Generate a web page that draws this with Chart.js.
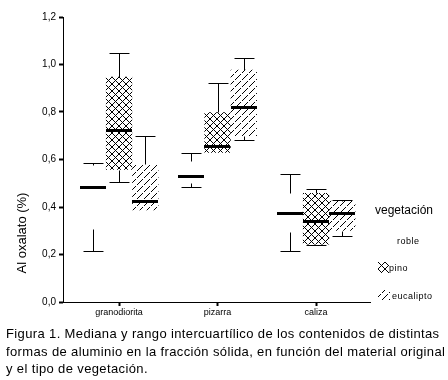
<!DOCTYPE html>
<html>
<head>
<meta charset="utf-8">
<script src="https://cdn.jsdelivr.net/npm/chart.js@4.4.1/dist/chart.umd.min.js"></script>
<style>
  body { margin: 0; background: #fff; }
  #wrap { position: relative; width: 448px; height: 380px; overflow: hidden; font-family: "Liberation Sans", Arial, sans-serif; color: #000; }
  #chart { position: absolute; left: 0; top: 0; }
  .txt { position: absolute; white-space: nowrap; font-weight: normal; color: #000; }
  #ytitle { left: -23px; top: 225px; width: 90px; height: 16px; line-height: 16px; text-align: center; font-size: 13px; transform: rotate(-90deg); }
  #legTitle { left: 375px; top: 203px; font-size: 12px; }
  .legItem { font-size: 9px; letter-spacing: 0.5px; }
  #caption { left: 6px; top: 325px; font-size: 13px; line-height: 17.5px; letter-spacing: 0.37px; }
  .icon { position: absolute; }
</style>
</head>
<body>
<div id="wrap">
  <canvas id="chart" width="448" height="380"></canvas>
  <div class="txt" id="ytitle">Al oxalato (%)</div>
  <div class="txt" id="legTitle">vegetación</div>
  <div class="txt legItem" style="left:397px; top:236px;">roble</div>
  <canvas class="icon" id="iconPino" width="11" height="11" style="left:378px; top:262px;"></canvas>
  <div class="txt legItem" style="left:389px; top:263px;">pino</div>
  <canvas class="icon" id="iconEuc" width="12" height="11" style="left:378px; top:290px;"></canvas>
  <div class="txt legItem" style="left:392px; top:291px;">eucalipto</div>
  <div class="txt" id="caption">Figura 1. Mediana y rango intercuartílico de los contenidos de distintas<br>formas de aluminio en la fracción sólida, en función del material original<br>y el tipo de vegetación.</div>
</div>
<script>
// datos (Al oxalato, %)
const categories = ['granodiorita', 'pizarra', 'caliza'];
const series = ['roble', 'pino', 'eucalipto'];

const robleMin = [0.216, 0.486, 0.216];
const robleQ1  = [0.309, 0.500, 0.293];
const robleMed = [0.486, 0.532, 0.373];
const robleQ3  = [0.577, 0.594, 0.459];
const robleMax = [0.587, 0.627, 0.541];

const pinoMin = [0.507, 0.628, 0.240];
const pinoQ1  = [0.557, 0.628, 0.242];
const pinoMed = [0.723, 0.656, 0.343];
const pinoQ3  = [0.948, 0.799, 0.459];
const pinoMax = [1.050, 0.920, 0.475];

const eucMin = [0.386, 0.681, 0.277];
const eucQ1  = [0.386, 0.698, 0.300];
const eucMed = [0.424, 0.823, 0.376];
const eucQ3  = [0.580, 0.978, 0.426];
const eucMax = [0.700, 1.029, 0.430];

const yTicks = [0, 0.2, 0.4, 0.6, 0.8, 1.0, 1.2];

// tramas
function makeTile(draw) {
    const c = document.createElement('canvas');
    c.width = 7; c.height = 7;
    const g = c.getContext('2d');
    g.fillStyle = '#000';
    draw(g);
    return c;
}
const crossTile = makeTile(g => {
    for (let i = 0; i < 7; i++) { g.fillRect(i, i, 1, 1); g.fillRect(i, 6 - i, 1, 1); }
});
const hatchTile = makeTile(g => {
    for (let i = 0; i < 7; i++) { if (i !== 3) g.fillRect(i, 6 - i, 1, 1); }
});
const tmp = document.createElement('canvas').getContext('2d');
const crossPat = tmp.createPattern(crossTile, 'repeat');
const hatchPat = tmp.createPattern(hatchTile, 'repeat');

function fillIcon(id, pat) {
    const c = document.getElementById(id);
    const g = c.getContext('2d');
    g.fillStyle = pat;
    g.fillRect(0, 0, c.width, c.height);
}
fillIcon('iconPino', crossPat);
fillIcon('iconEuc', hatchPat);

const stats = [
    { min: robleMin, q1: robleQ1, med: robleMed, q3: robleQ3, max: robleMax, fill: 'rgba(0,0,0,0)' },
    { min: pinoMin, q1: pinoQ1, med: pinoMed, q3: pinoQ3, max: pinoMax, fill: crossPat },
    { min: eucMin, q1: eucQ1, med: eucMed, q3: eucQ3, max: eucMax, fill: hatchPat }
];

// bigotes y medianas
const boxExtras = {
    id: 'boxExtras',
    afterDatasetsDraw(chart) {
        const ctx = chart.ctx;
        const y = chart.scales.y;
        ctx.save();
        ctx.strokeStyle = '#000';
        stats.forEach((s, i) => {
            chart.getDatasetMeta(i).data.forEach((bar, j) => {
                const cx = Math.round(bar.x) + 0.5;
                const half = bar.width / 2;
                const cap = bar.width * 0.38;
                ctx.lineWidth = 1;
                const whisker = (from, to) => {
                    if (Math.abs(to - from) < 0.002) return;
                    const y1 = Math.round(y.getPixelForValue(from)) + 0.5;
                    const y2 = Math.round(y.getPixelForValue(to)) + 0.5;
                    ctx.beginPath();
                    ctx.moveTo(cx, y1); ctx.lineTo(cx, y2);
                    ctx.moveTo(cx - cap, y2); ctx.lineTo(cx + cap, y2);
                    ctx.stroke();
                };
                whisker(s.q3[j], s.max[j]);
                whisker(s.q1[j], s.min[j]);
                const ym = Math.round(y.getPixelForValue(s.med[j]));
                ctx.fillStyle = '#000';
                ctx.fillRect(Math.round(bar.x - half), ym - 1, Math.round(bar.width), 3);
            });
        });
        ctx.restore();
    }
};

const font = { family: '"Liberation Sans", Arial, sans-serif', size: 9 };

new Chart(document.getElementById('chart'), {
    type: 'bar',
    data: {
        datasets: stats.map((s, i) => ({
            label: series[i],
            data: categories.map((c, j) => ({ x: j + 1, y: [s.q1[j], s.q3[j]] })),
            backgroundColor: s.fill,
            borderWidth: 0,
            categoryPercentage: 0.8,
            barPercentage: 1
        }))
    },
    options: {
        responsive: false,
        animation: false,
        layout: { padding: { left: 0, top: 17, right: 78, bottom: 58 } },
        plugins: { legend: { display: false }, tooltip: { enabled: false } },
        scales: {
            x: {
                type: 'linear',
                offset: false,
                min: 0.431,
                max: 3.548,
                afterBuildTicks: sc => { sc.ticks = categories.map((c, j) => ({ value: j + 1 })); },
                afterFit: sc => { sc.height = 20; },
                ticks: { callback: v => categories[v - 1], color: '#000', font: font, padding: 1, maxRotation: 0 },
                grid: { drawOnChartArea: false, offset: false, color: '#000', tickLength: 4, tickWidth: 2 },
                border: { color: '#000', width: 1 }
            },
            y: {
                min: 0,
                max: 1.2,
                afterBuildTicks: sc => { sc.ticks = yTicks.map(v => ({ value: v })); },
                afterFit: sc => { sc.width = 63; },
                ticks: { callback: v => v.toFixed(1).replace('.', ','), color: '#000', font: { family: font.family, size: 10 }, padding: 3 },
                grid: { drawOnChartArea: false, color: '#000', tickLength: 4, tickWidth: 2 },
                border: { color: '#000', width: 1 }
            }
        }
    },
    plugins: [boxExtras]
});
</script>
</body>
</html>
